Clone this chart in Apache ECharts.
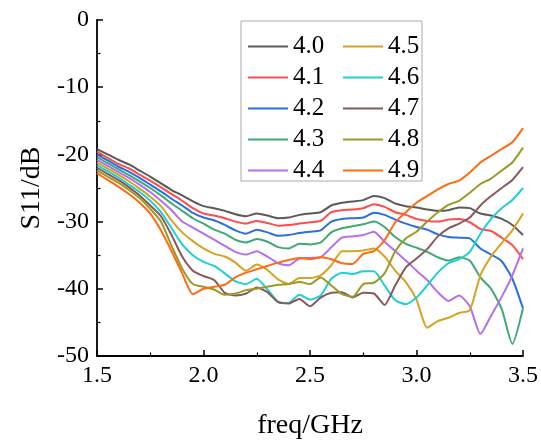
<!DOCTYPE html>
<html>
<head>
<meta charset="utf-8">
<script src="https://cdn.jsdelivr.net/npm/echarts@6/dist/echarts.min.js"></script>
<style>
html,body{margin:0;padding:0;background:#fff;}
#chart{width:541px;height:445px;}
</style>
</head>
<body>
<div id="chart"></div>
<script>
const freq = [1.5,1.55,1.6,1.65,1.7,1.75,1.8,1.85,1.9,1.95,2.0,
  2.05,2.1,2.15,2.2,2.25,2.3,2.35,2.4,2.45,2.5,
  2.55,2.6,2.65,2.7,2.75,2.8,2.85,2.9,2.95,3.0,
  3.05,3.1,3.15,3.2,3.25,3.3,3.35,3.4,3.45,3.5];

const names = ['4.0','4.1','4.2','4.3','4.4','4.5','4.6','4.7','4.8','4.9'];

const s40 = [-19.2,-20.0,-20.8,-21.5,-22.4,-23.3,-24.3,-25.3,-26.1,-27.0,-27.7,
  -28.0,-28.4,-28.9,-29.2,-28.8,-29.1,-29.5,-29.4,-29.0,-28.8,
  -28.6,-27.6,-27.2,-27.0,-26.8,-26.2,-26.5,-27.3,-27.7,-27.9,
  -28.2,-28.4,-28.3,-27.9,-28.0,-28.8,-29.1,-29.6,-30.5,-32.0];
const s41 = [-19.6,-20.5,-21.4,-22.1,-23.0,-23.9,-24.9,-25.9,-26.9,-28.0,-28.8,
  -29.1,-29.5,-30.0,-30.3,-29.9,-30.2,-30.6,-30.5,-30.3,-30.1,
  -29.9,-28.6,-28.3,-28.2,-28.0,-27.4,-27.8,-28.6,-29.0,-29.6,
  -29.9,-30.0,-29.7,-29.6,-30.1,-31.1,-31.4,-32.4,-33.5,-35.6];
const s42 = [-20.0,-20.9,-21.8,-22.6,-23.5,-24.5,-25.5,-26.6,-27.6,-28.7,-29.4,
  -29.8,-30.5,-31.3,-31.8,-31.2,-31.6,-32.1,-32.0,-31.7,-31.5,
  -31.3,-30.0,-29.6,-29.5,-29.4,-28.7,-29.0,-29.7,-30.3,-30.8,
  -31.2,-31.9,-32.3,-32.4,-32.5,-34.0,-34.9,-35.9,-38.5,-42.9];
const s43 = [-20.4,-21.3,-22.2,-23.1,-24.0,-25.0,-26.1,-27.3,-28.4,-29.5,-30.3,
  -31.2,-31.8,-32.7,-33.1,-32.6,-33.0,-33.8,-34.0,-33.3,-33.4,
  -33.1,-31.6,-31.0,-30.7,-30.4,-30.0,-30.8,-32.3,-33.3,-33.9,
  -34.5,-35.3,-35.8,-35.3,-35.8,-38.3,-40.0,-43.0,-48.2,-42.9];
const s44 = [-20.8,-21.7,-22.6,-23.5,-24.5,-25.6,-26.9,-28.3,-30.0,-30.9,-31.8,
  -32.7,-33.6,-34.5,-34.9,-34.4,-35.2,-36.2,-36.5,-35.5,-35.4,
  -35.3,-33.8,-32.4,-32.2,-32.0,-31.5,-33.0,-34.4,-35.8,-37.3,
  -38.7,-40.5,-41.8,-41.0,-42.6,-46.7,-44.0,-41.2,-38.0,-34.0];
const s45 = [-21.2,-22.1,-23.0,-24.0,-25.1,-26.3,-27.7,-29.8,-31.6,-32.9,-34.0,
  -34.8,-35.2,-36.1,-37.3,-36.4,-37.2,-38.6,-39.3,-38.4,-38.4,
  -38.0,-36.5,-34.4,-34.4,-34.3,-34.0,-35.2,-37.3,-39.0,-41.6,
  -45.8,-44.8,-44.3,-43.6,-43.2,-38.0,-35.2,-33.2,-31.3,-28.8];
const s46 = [-21.6,-22.5,-23.4,-24.5,-25.6,-26.9,-28.6,-31.0,-33.4,-35.0,-36.0,
  -36.6,-37.7,-38.9,-39.3,-38.5,-40.1,-41.9,-42.1,-40.9,-41.6,
  -41.0,-38.5,-37.6,-37.8,-37.4,-37.4,-39.5,-41.7,-42.3,-41.3,
  -39.5,-37.6,-36.2,-35.6,-34.5,-31.8,-29.6,-28.0,-26.8,-25.0];
const s47 = [-22.0,-22.9,-23.8,-24.9,-26.1,-27.6,-29.2,-32.0,-35.2,-37.3,-38.1,
  -38.7,-40.6,-41.0,-40.7,-39.8,-40.5,-42.0,-42.2,-41.5,-42.6,
  -41.3,-40.6,-40.5,-41.3,-40.6,-40.7,-42.4,-39.5,-36.8,-35.5,
  -34.1,-32.2,-31.0,-30.3,-29.4,-27.6,-26.2,-25.0,-23.8,-21.9];
const s48 = [-22.4,-23.3,-24.2,-25.3,-26.5,-28.1,-30.0,-33.6,-37.0,-39.3,-39.7,
  -40.1,-40.9,-40.7,-40.2,-40.0,-39.7,-39.4,-39.3,-39.0,-39.3,
  -38.3,-39.5,-40.8,-41.2,-39.3,-39.1,-37.7,-34.4,-32.5,-31.5,
  -30.0,-28.6,-27.5,-26.9,-25.7,-24.4,-23.6,-22.4,-21.2,-19.0];
const s49 = [-22.8,-23.8,-24.8,-25.9,-27.2,-28.8,-31.3,-34.4,-37.7,-40.8,-40.0,
  -39.7,-39.4,-38.3,-37.6,-37.1,-36.6,-36.1,-35.7,-35.4,-35.6,
  -35.3,-35.6,-36.2,-36.3,-34.8,-34.4,-32.8,-30.1,-28.6,-27.2,
  -26.2,-25.2,-24.4,-23.9,-22.7,-21.2,-20.2,-19.2,-18.2,-16.1];

const seriesValues = [s40,s41,s42,s43,s44,s45,s46,s47,s48,s49];
const colors = ['#5a5a5a','#ff4d4d','#2b6fe0','#3fa873','#b36ff0','#d6a21f','#1fcfd4','#8a5858','#9a9a28','#ff6a12'];

const FONT = 'Liberation Serif';

const chart = echarts.init(document.getElementById('chart'), null, {renderer:'canvas'});

const legendCommon = {
  orient: 'vertical',
  icon: 'rect',
  itemWidth: 40,
  itemHeight: 2,
  itemGap: 6,
  textStyle: {fontSize: 25, fontFamily: FONT, color: '#000', lineHeight: 25},
  selectedMode: false
};

const axisCommon = {
  axisLine: {show: true, onZero: false, lineStyle: {color: '#000', width: 1.8}},
  axisTick: {show: true, inside: true, length: 6, lineStyle: {color: '#000', width: 1.5}},
  minorTick: {show: true, splitNumber: 2, length: 3.5, lineStyle: {color: '#000', width: 1.2}},
  splitLine: {show: false},
  nameTextStyle: {fontSize: 28, fontFamily: FONT, color: '#000'}
};

chart.setOption({
  animation: false,
  backgroundColor: '#fff',
  color: colors,
  grid: {left: 97, right: 15, top: 20, bottom: 79, containLabel: false},
  graphic: [{
    type: 'rect', z: 3,
    shape: {x: 241, y: 21, width: 181, height: 160},
    style: {fill: '#fff', stroke: '#aaaaaa', lineWidth: 1}
  }],
  legend: [
    Object.assign({}, legendCommon, {data: names.slice(0,5), left: 243, top: 29}),
    Object.assign({}, legendCommon, {data: names.slice(5), left: 338, top: 29})
  ],
  xAxis: Object.assign({}, axisCommon, {
    type: 'value', min: 1.5, max: 3.5, interval: 0.5,
    name: 'freq/GHz', nameLocation: 'middle', nameGap: 56,
    axisLabel: {fontSize: 24, fontFamily: FONT, color: '#000', margin: 8,
      formatter: v => v.toFixed(1)}
  }),
  yAxis: Object.assign({}, axisCommon, {
    type: 'value', min: -50, max: 0, interval: 10,
    name: 'S11/dB', nameLocation: 'middle', nameGap: 51,
    axisLabel: {fontSize: 24, fontFamily: FONT, color: '#000', margin: 8}
  }),
  series: names.map((n, k) => ({
    name: n,
    type: 'line',
    data: freq.map((f, i) => [f, seriesValues[k][i]]),
    symbol: 'none',
    smooth: 0.2,
    lineStyle: {width: 2, color: colors[k]},
    itemStyle: {color: colors[k]}
  }))
});
</script>
</body>
</html>
